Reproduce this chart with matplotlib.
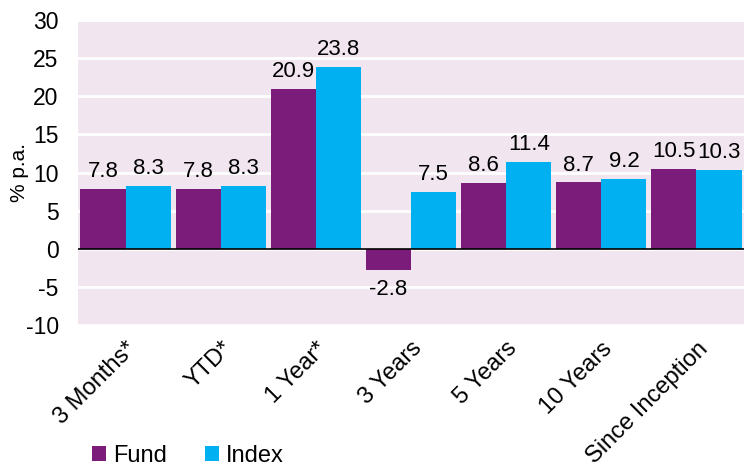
import numpy as np
import matplotlib.pyplot as plt

plt.rcParams["font.family"] = ["Liberation Sans", "DejaVu Sans"]
plt.rcParams["axes.unicode_minus"] = False

categories = ["3 Months*", "YTD*", "1 Year*", "3 Years", "5 Years", "10 Years", "Since Inception"]
fund = [7.8, 7.8, 20.9, -2.8, 8.6, 8.7, 10.5]
index = [8.3, 8.3, 23.8, 7.5, 11.4, 9.2, 10.3]

FUND_COLOR = "#7b1c7a"
INDEX_COLOR = "#00b0f0"
BG_COLOR = "#f1e6f0"
FS = 16

fig = plt.figure(figsize=(7.44, 4.74), dpi=100)
ax = fig.add_axes([0.105, 0.314, 0.895, 0.644])
ax.set_facecolor(BG_COLOR)

x = np.arange(len(categories))
w = 0.475
b1 = ax.bar(x - w / 2, fund, w, color=FUND_COLOR, label="Fund", zorder=2)
b2 = ax.bar(x + w / 2, index, w, color=INDEX_COLOR, label="Index", zorder=2)

for bars, vals in ((b1, fund), (b2, index)):
    for rect, v in zip(bars, vals):
        cx = rect.get_x() + rect.get_width() / 2
        if v >= 0:
            ax.annotate("%.1f" % v, (cx, v), xytext=(0, 5), textcoords="offset points",
                        ha="center", va="bottom", fontsize=FS, zorder=3)
        else:
            ax.annotate("%.1f" % v, (cx, v), xytext=(0, -6), textcoords="offset points",
                        ha="center", va="top", fontsize=FS, zorder=3)

ax.set_xlim(-0.5, len(categories) - 0.5)
ax.set_ylim(-10, 30)
ax.set_yticks(np.arange(-10, 31, 5))
ax.yaxis.grid(True, color="white", linewidth=2, zorder=1)
ax.set_axisbelow(True)
ax.axhline(0, color="black", linewidth=1.2, zorder=3)

for s in ax.spines.values():
    s.set_visible(False)

ax.tick_params(axis="both", length=0)
ax.tick_params(axis="y", pad=14, labelsize=FS + 0.5)
ax.set_xticks(x)
ax.set_xticklabels(categories, rotation=45, ha="right", rotation_mode="anchor")
ax.tick_params(axis="x", pad=9, labelsize=FS + 1)
ax.set_ylabel("% p.a.", fontsize=FS - 1)
ax.yaxis.set_label_coords(-0.074, 0.5)

fig.legend(loc="lower left", bbox_to_anchor=(0.095, -0.03), ncol=2, frameon=False,
           fontsize=FS + 1, handlelength=0.6, handleheight=0.6, handletextpad=0.3,
           columnspacing=1.6)

fig.savefig("out.png", dpi=100)
